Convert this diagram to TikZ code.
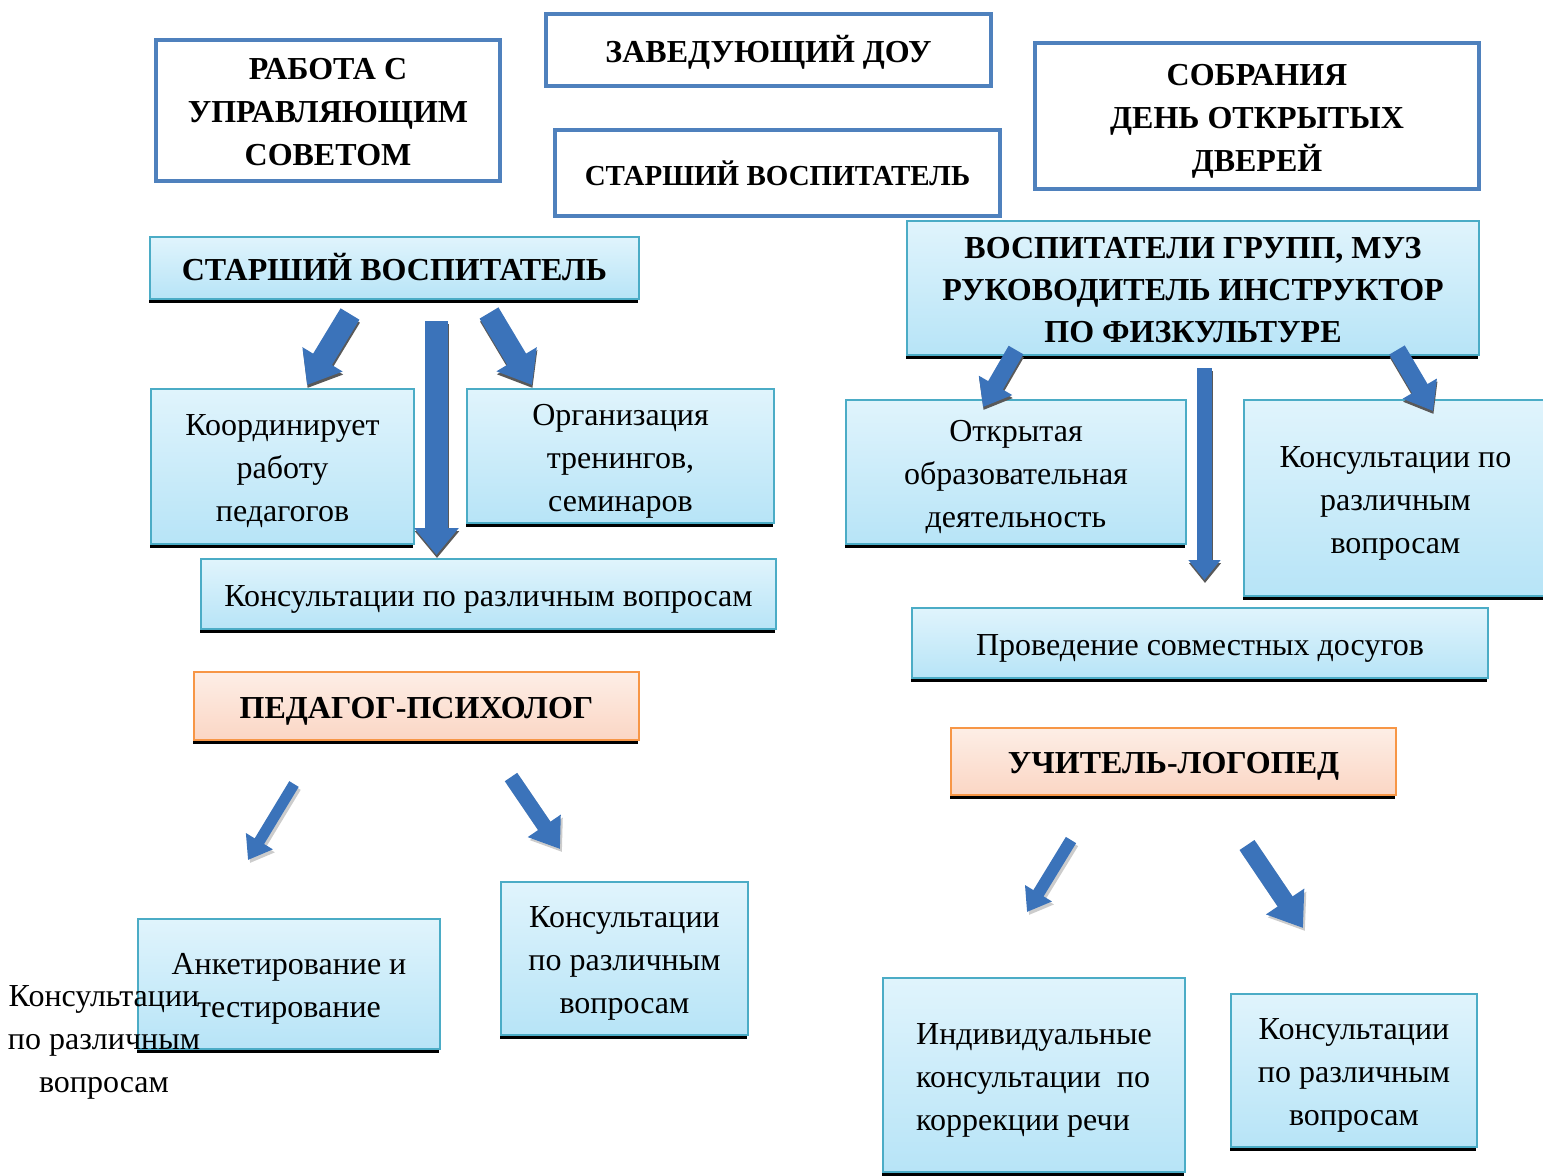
\documentclass[tikz,border=0pt]{standalone}
\usepackage{fontspec}
\setmainfont{Liberation Serif}
\usepackage{tikz}
\usetikzlibrary{arrows.meta,shadows}

\definecolor{frameblue}{RGB}{79,129,189}
\definecolor{tealline}{RGB}{75,172,198}
\definecolor{lighttop}{RGB}{224,244,252}
\definecolor{lightbot}{RGB}{183,228,247}
\definecolor{orangeline}{RGB}{247,150,70}
\definecolor{orangetop}{RGB}{253,238,230}
\definecolor{orangebot}{RGB}{251,214,196}
\definecolor{arrowblue}{RGB}{59,115,186}

\newcommand{\boxfont}{\fontsize{32}{43}\selectfont}
\newcommand{\tstrut}{\rule[-9pt]{0pt}{42pt}}

\tikzset{
  struts/.style={execute at begin node=\tstrut, execute at end node=\tstrut},
  topbox/.style={draw=frameblue, line width=4pt, fill=white, align=center,
    inner sep=2pt, font=\boxfont\bfseries, struts},
  infobox/.style={draw=tealline, line width=2pt, top color=lighttop,
    bottom color=lightbot, align=center, inner sep=2pt, font=\boxfont, struts,
    drop shadow={shadow xshift=-1pt, shadow yshift=-4pt, fill=black, opacity=1}},
  headbox/.style={infobox, font=\boxfont\bfseries},
  rolebox/.style={headbox, draw=orangeline, top color=orangetop, bottom color=orangebot},
  arrowbody/.style={draw=arrowblue},
  arrowshade/.style={draw=black!65}
}

\begin{document}
\begin{tikzpicture}[x=1pt,y=-1pt]
\useasboundingbox (0,0) rectangle (1543,1176);

\node[topbox, minimum width=344pt, minimum height=141pt] (rabota) at (328,110.5) {\tstrut РАБОТА С\\УПРАВЛЯЮЩИМ\\СОВЕТОМ};
\node[topbox, minimum width=445pt, minimum height=72pt] (zav) at (768.5,50) {ЗАВЕДУЮЩИЙ ДОУ};
\node[topbox, minimum width=445pt, minimum height=86pt, font=\fontsize{29}{40}\selectfont\bfseries] (stv) at (777.5,173) {СТАРШИЙ ВОСПИТАТЕЛЬ};
\node[topbox, minimum width=444pt, minimum height=146pt] (sobr) at (1257,116) {\tstrut СОБРАНИЯ\\ДЕНЬ ОТКРЫТЫХ\\ДВЕРЕЙ};

\node[headbox, minimum width=489pt, minimum height=62pt] (starsh) at (394.5,268) {СТАРШИЙ ВОСПИТАТЕЛЬ};
\node[infobox, minimum width=263pt, minimum height=155pt] (koord) at (282.5,466.5) {\tstrut Координирует\\работу\\педагогов};
\node[infobox, minimum width=307pt, minimum height=134pt] (organ) at (620.5,456) {\tstrut Организация\\тренингов,\\семинаров};
\node[infobox, minimum width=575pt, minimum height=70pt] (konsA) at (488.5,594) {Консультации по различным вопросам};

\node[headbox, minimum width=572pt, minimum height=134pt, font=\fontsize{32}{42}\selectfont\bfseries] (vosp) at (1193,288) {\tstrut ВОСПИТАТЕЛИ ГРУПП, МУЗ\\РУКОВОДИТЕЛЬ ИНСТРУКТОР\\ПО ФИЗКУЛЬТУРЕ};
\node[infobox, minimum width=340pt, minimum height=144pt] (otkr) at (1016,472) {\tstrut Открытая\\образовательная\\деятельность};
\node[infobox, minimum width=303pt, minimum height=196pt] (konsB) at (1395.5,498) {\tstrut Консультации по\\различным\\вопросам};
\node[infobox, minimum width=576pt, minimum height=70pt] (dosug) at (1200,643) {Проведение совместных досугов};

\node[rolebox, minimum width=445pt, minimum height=68pt] (psych) at (416.5,706) {ПЕДАГОГ-ПСИХОЛОГ};
\node[rolebox, minimum width=445pt, minimum height=67pt] (logo) at (1173.5,761.5) {УЧИТЕЛЬ-ЛОГОПЕД};

\node[infobox, minimum width=302pt, minimum height=130pt] (anket) at (289,984) {\tstrut Анкетирование и\\тестирование};
\node[infobox, minimum width=247pt, minimum height=153pt] (konsC) at (624.5,958.5) {\tstrut Консультации\\по различным\\вопросам};
\node[infobox, minimum width=302pt, minimum height=194pt, align=left] (indiv) at (1034,1075) {\tstrut Индивидуальные\\консультации~ по\\коррекции речи};
\node[infobox, minimum width=246pt, minimum height=153pt] (konsD) at (1354,1070.5) {\tstrut Консультации\\по различным\\вопросам};
\node[align=center, font=\boxfont, struts] (konsE) at (104,1037) {\tstrut Консультации\\по различным\\вопросам};

\coordinate (a1s) at (350,314);   \coordinate (a1e) at (307,385);
\coordinate (a2s) at (436.5,321); \coordinate (a2e) at (436.5,555);
\coordinate (a3s) at (489,313);   \coordinate (a3e) at (532,385);
\coordinate (a4s) at (1016,350);  \coordinate (a4e) at (983,407);
\coordinate (a5s) at (1204.5,368); \coordinate (a5e) at (1204.5,580);
\coordinate (a6s) at (1397,350);  \coordinate (a6e) at (1433,411);
\coordinate (a7s) at (294,784);   \coordinate (a7e) at (248,860);
\coordinate (a8s) at (511,777);   \coordinate (a8e) at (560,849);
\coordinate (a9s) at (1071,840);  \coordinate (a9e) at (1027,912);
\coordinate (a10s) at (1247,845); \coordinate (a10e) at (1303,928);

\foreach \s/\e/\w/\h/\l in {a1s/a1e/22/45/30, a2s/a2e/23/43/27, a3s/a3e/22/45/30,
    a4s/a4e/17/37/25, a5s/a5e/15/31/20, a6s/a6e/18/38/26} {
  \draw[arrowshade, line width=\w pt, -{Triangle[width=\h pt,length=\l pt]}]
    ([shift={(0.5,3)}]\s) -- ([shift={(0.5,3)}]\e);
  \draw[arrowbody, line width=\w pt, -{Triangle[width=\h pt,length=\l pt]}] (\s) -- (\e);
}
\foreach \s/\e/\w/\h/\l in {a7s/a7e/11/30/22, a8s/a8e/15/38/28,
    a9s/a9e/12/30/22, a10s/a10e/18/44/32} {
  \draw[draw=black!20, line width=\w pt, -{Triangle[width=\h pt,length=\l pt]}]
    ([shift={(2,3)}]\s) -- ([shift={(2,3)}]\e);
  \draw[arrowbody, line width=\w pt, -{Triangle[width=\h pt,length=\l pt]}] (\s) -- (\e);
}
\end{tikzpicture}
\end{document}
